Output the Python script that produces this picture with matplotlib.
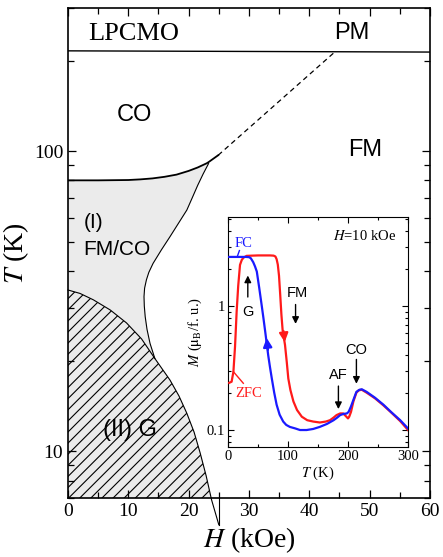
import matplotlib
matplotlib.use("Agg")
import matplotlib.pyplot as plt
from matplotlib.ticker import MultipleLocator, LogLocator, NullFormatter, FixedLocator, FixedFormatter

plt.rcParams['font.family'] = ['Liberation Serif', 'DejaVu Serif']
plt.rcParams['mathtext.fontset'] = 'stix'
plt.rcParams['hatch.linewidth'] = 0.8
SANS = ['Liberation Sans', 'DejaVu Sans']

# --- phase diagram (H in kOe, T in K) ---
pm_H = [0, 60]
pm_T = [216, 214]

co_H = [0, 5, 10, 12, 14, 16, 18, 20, 21.5, 23, 23.3, 24.9]
co_T = [80, 80, 80.2, 80.6, 81.2, 82.2, 83.6, 86.0, 88.3, 91.2, 92, 97]

dash_H = [24.9, 44.1]
dash_T = [97, 213]

# right edge of region (I), from the cusp downwards
rb_H = [23.3, 22.4, 21.5, 20.6, 19.7, 18.3, 16.9, 15.5, 14.1, 13.4, 13.0, 12.7, 12.6,
        12.65, 12.8, 13.1, 13.6, 14.4]
rb_T = [91, 84, 77, 70, 63.7, 57.5, 51.9, 47, 42.3, 39.5, 37.3, 35, 32.8,
        30.5, 28.1, 25.5, 22.9, 20.4]

# upper edge of region (II) G
g_H = [0, 2, 4.2, 7, 9.7, 12.2, 14.4, 16.9, 18.4, 19.7, 20.9, 21.9, 22.9, 23.8, 25.0]
g_T = [34.5, 33.6, 32, 29.6, 26.8, 23.7, 20.4, 17.3, 15.3, 13.4, 11.6, 9.9, 8.3, 6.9, 5.7]

# --- inset M(T) at H = 10 kOe ---
fc_T = [2, 30, 35, 38, 42, 45, 48, 52, 56, 59, 62, 67, 70, 73, 77, 81, 86, 92, 97, 103, 112,
        120, 131, 142, 153, 165, 176, 182, 187, 193, 198, 201, 205, 209, 214, 219, 223, 231,
        245, 259, 273, 287, 300]
fc_M = [2.48, 2.48, 2.47, 2.42, 2.25, 2.08, 1.89, 1.4, 1.02, 0.8, 0.62, 0.40, 0.32, 0.26, 0.2,
        0.16, 0.133, 0.117, 0.11, 0.106, 0.103, 0.1, 0.1, 0.102, 0.106, 0.112, 0.12, 0.126,
        0.132, 0.135, 0.136, 0.14, 0.155, 0.175, 0.203, 0.211, 0.213, 0.203, 0.182, 0.16,
        0.138, 0.12, 0.103]

zfc_T = [2, 6, 9, 11.7, 14.4, 17, 20, 23, 26, 31, 50, 70, 76, 79, 81, 83, 85, 87, 89, 91, 95,
         98, 100.5, 104, 109, 115, 123, 132, 142, 153, 163, 170, 176, 181, 187, 192, 196, 200,
         202, 205, 209, 214, 218, 223, 231, 245, 259, 273, 287, 300]
zfc_M = [0.24, 0.245, 0.295, 0.47, 0.9, 1.45, 2.14, 2.35, 2.45, 2.53, 2.55, 2.55, 2.54, 2.5,
         2.38, 2.15, 1.75, 1.23, 0.85, 0.64, 0.485, 0.35, 0.26, 0.21, 0.17, 0.145, 0.128, 0.12,
         0.117, 0.115, 0.117, 0.12, 0.126, 0.132, 0.136, 0.136, 0.13, 0.124, 0.128, 0.14, 0.17,
         0.2, 0.209, 0.211, 0.2, 0.18, 0.158, 0.137, 0.118, 0.1]

fig = plt.figure(figsize=(4.43, 5.57), dpi=100)
ax = fig.add_axes([0.1535, 0.106, 0.817, 0.8796])
ax.set_yscale('log')
ax.set_xlim(0, 60)
ax.set_ylim(7, 300)

gray = '#ebebeb'
# region (I): under the CO line, left of the right edge, down to the bottom
n_co = co_H.index(23.3) + 1
i0 = g_H.index(14.4) + 1
i1 = g_H.index(23.8) + 1
reg_H = co_H[:n_co] + rb_H + g_H[i0:i1] + [0]
reg_T = co_T[:n_co] + rb_T + g_T[i0:i1] + [6.9]
ax.fill(reg_H, reg_T, color=gray, lw=0, zorder=1)
# region (II): hatched
gh_H = g_H[:i1] + [0]
gh_T = g_T[:i1] + [6.9]
ax.fill(gh_H, gh_T, facecolor=gray, edgecolor='k', hatch='///', lw=0, zorder=1)

ax.plot(pm_H, pm_T, color='k', lw=1.0, zorder=3)
ax.plot(co_H, co_T, color='k', lw=1.3, zorder=3)
ax.plot(dash_H, dash_T, color='k', lw=0.9, ls=(0, (4, 3)), zorder=3)
ax.plot(rb_H, rb_T, color='k', lw=0.8, zorder=3)
ax.plot(g_H, g_T, color='k', lw=0.8, zorder=3, clip_on=False)
ax.plot([25, 25], [7, 5.7], color='k', lw=0.8, clip_on=False)

ax.xaxis.set_major_locator(MultipleLocator(10))
ax.xaxis.set_minor_locator(MultipleLocator(5))
ax.yaxis.set_major_locator(FixedLocator([10, 100]))
ax.yaxis.set_major_formatter(FixedFormatter(['10', '100']))
ax.yaxis.set_minor_locator(LogLocator(base=10, subs=range(2, 10)))
ax.yaxis.set_minor_formatter(NullFormatter())
ax.tick_params(which='both', direction='in', top=True, right=True, labelsize=14, width=0.9)
ax.tick_params(which='major', length=6)
ax.tick_params(which='minor', length=4.5)
for s in ax.spines.values():
    s.set_linewidth(1.2)

ax.set_xlabel('$H$ (kOe)', fontsize=20, labelpad=4)
ax.set_ylabel('$T$ (K)', fontsize=20, labelpad=2)

ax.text(3.3, 245, 'LPCMO', fontsize=19, va='center', ha='left')
ax.text(47, 247, 'PM', fontsize=17, family=SANS, va='center', ha='center')
ax.text(11, 132, 'CO', fontsize=17, family=SANS, va='center', ha='center')
ax.text(49.3, 101, 'FM', fontsize=17, family=SANS, va='center', ha='center')
ax.text(2.6, 58, '(I)', fontsize=15, family=SANS, va='center', ha='left')
ax.text(2.6, 47, 'FM/CO', fontsize=15, family=SANS, va='center', ha='left')
ax.text(10.3, 11.8, '(II) G', fontsize=17, family=SANS, va='center', ha='center')

# --- inset ---
axi = fig.add_axes([0.5147, 0.1975, 0.4063, 0.4129])
axi.set_yscale('log')
axi.set_xlim(0, 300)
axi.set_ylim(0.073, 5.2)
red = '#ff1a1a'
blue = '#1a1aff'
axi.plot(zfc_T, zfc_M, color=red, lw=1.6, zorder=3)
axi.plot(fc_T, fc_M, color=blue, lw=1.6, zorder=4)

axi.annotate('', xy=(64, 0.58), xytext=(67, 0.42),
             arrowprops=dict(arrowstyle='-|>', color=blue, lw=1.6, mutation_scale=13))
axi.annotate('', xy=(95, 0.485), xytext=(92, 0.66),
             arrowprops=dict(arrowstyle='-|>', color=red, lw=1.6, mutation_scale=13))

arr = dict(arrowstyle='-|>', color='k', lw=1.0, mutation_scale=10)
axi.annotate('', xy=(33, 1.85), xytext=(33, 1.12), arrowprops=arr)
axi.text(34, 0.9, 'G', fontsize=10.5, family=SANS, ha='center', va='center')
axi.annotate('', xy=(112.6, 0.68), xytext=(112.6, 1.08), arrowprops=arr)
axi.text(116, 1.27, 'FM', fontsize=10.5, family=SANS, ha='center', va='center')
axi.annotate('', xy=(184, 0.14), xytext=(184, 0.238), arrowprops=arr)
axi.text(184, 0.28, 'AF', fontsize=10.5, family=SANS, ha='center', va='center')
axi.annotate('', xy=(214, 0.224), xytext=(214, 0.39), arrowprops=arr)
axi.text(213, 0.44, 'CO', fontsize=10.5, family=SANS, ha='center', va='center')

axi.text(25.5, 3.2, 'FC', color=blue, fontsize=10.5, ha='center', va='center')
axi.plot([19, 15.5], [2.79, 2.5], color=blue, lw=1.0)
axi.text(34, 0.198, 'ZFC', color=red, fontsize=10.5, ha='center', va='center')
axi.plot([9, 25.5], [0.295, 0.238], color=red, lw=1.0)
axi.text(227, 3.69, '$H$=10 kOe', fontsize=10.5, ha='center', va='center')

axi.xaxis.set_major_locator(MultipleLocator(100))
axi.xaxis.set_minor_locator(MultipleLocator(50))
axi.yaxis.set_major_locator(FixedLocator([0.1, 1]))
axi.yaxis.set_major_formatter(FixedFormatter(['0.1', '1']))
axi.yaxis.set_minor_locator(LogLocator(base=10, subs=range(2, 10)))
axi.yaxis.set_minor_formatter(NullFormatter())
axi.tick_params(which='both', direction='in', top=True, right=True, labelsize=10.5, width=0.8)
axi.tick_params(which='major', length=4, pad=2)
axi.tick_params(which='minor', length=2.5)
axi.set_xlabel('$T$ (K)', fontsize=10.5, labelpad=1)
axi.set_ylabel(r'$M$ ($\mathrm{\mu}_\mathrm{B}$/f. u.)', fontsize=10.5, labelpad=2)

fig.savefig('out.png', dpi=100)
